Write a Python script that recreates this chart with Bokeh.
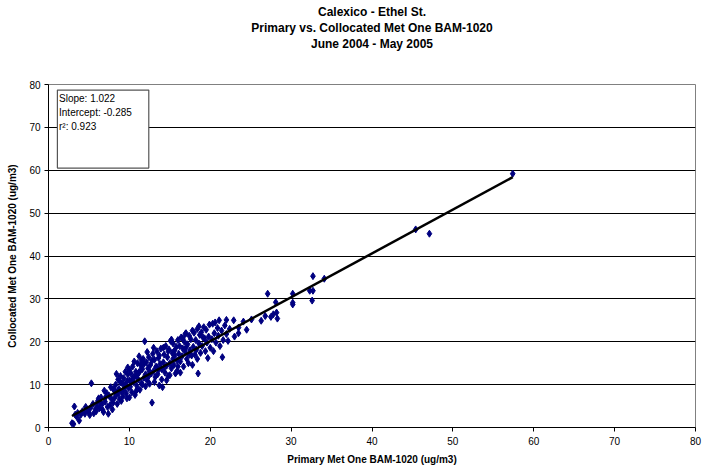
from bokeh.plotting import figure
from bokeh.models import Title, Range1d, FixedTicker, Label
from bokeh.embed import file_html
from bokeh.resources import INLINE

# ---- data ----
primary = [
    2.9, 3.1, 3.2, 3.5, 3.3, 3.8, 3.6, 4.0,
    4.2, 4.5, 4.8, 5.0, 5.2, 5.3, 5.5, 5.6, 5.8, 6.0, 4.6, 5.1, 5.9, 6.1,
    6.3, 6.5, 6.6, 6.8, 7.0, 7.2, 7.3, 7.5, 7.6, 7.8, 8.0, 6.2, 6.9, 7.4, 7.9, 6.4, 7.1, 7.7, 6.7, 8.0,
    8.2, 8.3, 8.4, 8.5, 8.6, 8.7, 8.8, 8.9, 9.0, 9.1, 9.2, 9.3, 9.4, 9.5, 9.6, 9.7, 9.8, 9.9, 10.0, 10.0,
    8.1, 8.4, 9.0, 9.5, 9.8, 8.6, 9.3, 10.0, 8.9, 9.7,
    10.1, 10.2, 10.3, 10.4, 10.5, 10.6, 10.7, 10.8, 10.9, 11.0, 11.1, 11.2, 11.3, 11.4, 11.5, 11.6,
    11.7, 11.8, 11.9, 12.0, 10.2, 10.6, 11.0, 11.3, 11.8, 12.0, 10.4, 10.9, 11.5, 11.6, 10.8, 11.2,
    12.1, 12.2, 12.3, 12.4, 12.5, 12.6, 12.7, 12.8, 12.9, 13.0, 13.1, 13.2, 13.3, 13.4, 13.5, 13.6,
    13.7, 13.8, 13.9, 14.0, 12.2, 12.5, 12.8, 13.1, 13.4, 13.7, 14.0, 12.4, 13.0, 13.6,
    14.1, 14.2, 14.3, 14.4, 14.5, 14.6, 14.7, 14.8, 14.9, 15.0, 15.1, 15.2, 15.3, 15.4, 15.5, 15.6,
    15.7, 15.8, 15.9, 16.0, 14.3, 14.8, 15.2, 15.6, 16.0, 14.6, 15.4, 15.9, 14.2, 15.0,
    16.1, 16.2, 16.3, 16.4, 16.5, 16.6, 16.7, 16.8, 16.9, 17.0, 17.1, 17.2, 17.3, 17.4, 17.5, 17.6,
    17.7, 17.8, 17.9, 18.0, 16.3, 16.6, 17.0, 17.4, 17.8, 16.9,
    18.1, 18.2, 18.3, 18.4, 18.5, 18.6, 18.7, 18.8, 18.9, 19.0, 19.2, 19.3, 19.4, 19.5, 19.6, 19.8,
    19.9, 20.0, 18.4, 19.1, 19.7, 18.6,
    20.2, 20.3, 20.5, 20.6, 20.7, 20.9, 21.0, 21.2, 21.4, 21.6, 21.8, 22.0, 21.1, 20.4, 21.5, 22.0,
    22.2, 22.4,
    22.9, 23.5, 23.5, 24.1, 25.1, 26.3, 27.1, 28.1, 28.2, 28.3, 27.8, 27.5, 26.8, 24.5, 23.0,
    30.2, 30.2, 30.2, 32.3, 32.7, 32.6, 32.7, 34.1, 45.4, 47.1, 57.4,
]
collocated = [
    1.0, 0.8, 4.9, 2.5, 3.0, 1.6, 3.4, 3.0,
    3.8, 3.2, 4.0, 3.5, 4.6, 10.3, 5.5, 3.3, 4.2, 5.0, 4.8, 2.9, 3.8, 6.2,
    4.5, 7.0, 5.4, 3.6, 6.0, 8.0, 4.8, 7.4, 5.2, 6.6, 9.0, 6.8, 8.6, 3.2, 4.2, 5.8, 7.2, 9.4, 4.1, 5.8,
    7.0, 10.0, 8.1, 5.5, 11.2, 9.0, 6.6, 12.0, 8.4, 10.4, 7.3, 11.5, 9.5, 13.0, 8.0, 10.8, 12.4, 9.2, 7.0, 11.0,
    8.8, 12.5, 6.2, 10.0, 14.0, 7.8, 8.8, 13.5, 10.5, 6.8,
    9.5, 12.6, 8.2, 14.2, 10.6, 11.8, 7.6, 13.0, 9.8, 15.0, 11.2, 12.8, 8.8, 14.5, 10.4, 13.6,
    16.0, 11.6, 20.1, 12.4, 10.5, 15.4, 9.0, 13.2, 14.8, 9.6, 11.4, 12.2, 15.6, 10.0, 8.4, 16.6,
    15.2, 11.0, 13.8, 16.4, 10.2, 14.6, 12.6, 5.8, 17.2, 13.2, 15.8, 11.8, 14.2, 17.8, 12.4, 16.2,
    9.8, 14.8, 18.4, 13.6, 17.6, 13.0, 15.6, 10.6, 14.0, 16.8, 11.2, 12.0, 18.6, 13.4,
    9.4, 15.2, 17.0, 12.8, 19.0, 14.4, 16.4, 12.0, 18.2, 15.0, 20.2, 13.8, 17.4, 19.6, 14.6, 16.8,
    12.6, 18.8, 15.6, 20.4, 14.0, 17.8, 20.5, 18.0, 14.2, 11.0, 16.0, 13.2, 18.6, 12.2,
    17.2, 19.0, 15.4, 21.0, 16.6, 18.4, 14.2, 20.0, 17.6, 22.0, 16.0, 19.4, 15.0, 21.4, 18.0, 20.6,
    16.8, 22.6, 18.8, 22.1, 12.8, 20.8, 18.6, 17.0, 14.6, 21.8,
    17.0, 20.4, 18.2, 23.0, 12.6, 19.6, 21.6, 17.4, 22.2, 19.0, 23.4, 20.8, 17.8, 22.8, 19.8, 21.2,
    24.0, 18.6, 16.0, 21.0, 16.2, 23.6,
    20.6, 24.2, 22.0, 24.5, 19.8, 23.2, 21.4, 19.0, 22.6, 20.4, 23.8, 21.8, 25.0, 17.8, 16.4, 25.1,
    20.2, 23.0,
    25.0, 23.3, 22.0, 24.7, 25.2, 24.9, 31.2, 29.2, 26.8, 25.4, 26.4, 25.8, 26.0, 22.8, 21.2,
    31.2, 29.1, 28.7, 31.9, 31.9, 29.6, 35.3, 34.7, 46.2, 45.2, 59.2,
]
slope = 1.022
intercept = -0.285
r2 = 0.923
x_ticks = [0, 10, 20, 30, 40, 50, 60, 70, 80]
y_ticks = [0, 10, 20, 30, 40, 50, 60, 70, 80]
title_lines = ["Calexico - Ethel St.", "Primary vs. Collocated Met One BAM-1020", "June 2004 - May 2005"]
stats_lines = ["Slope: %.3f" % slope, "Intercept: %.3f" % intercept, "r\u00b2: %.3f" % r2]

FONT = "Liberation Sans"

p = figure(width=717, height=468, output_backend="svg", toolbar_location=None,
           x_range=Range1d(0, 80), y_range=Range1d(0, 80),
           min_border_left=48, min_border_right=22, min_border_top=84, min_border_bottom=41,
           title=None)
p.background_fill_color = "white"
p.border_fill_color = "white"
p.outline_line_color = "#808080"
p.outline_line_width = 1

# titles (added innermost first)
p.add_layout(Title(text=" ", text_font_size="20px"), "above")
for t in reversed(title_lines):
    p.add_layout(Title(text=t, text_font=FONT, text_font_style="bold", text_font_size="12px",
                       align="center", offset=-11, text_color="black", standoff=0), "above")

# axes
for ax in (p.xaxis[0], p.yaxis[0]):
    ax.axis_line_color = "black"
    ax.major_tick_line_color = "black"
    ax.major_tick_out = 4
    ax.major_tick_in = 0
    ax.minor_tick_line_color = None
    ax.major_label_text_font = FONT
    ax.major_label_text_font_size = "10px"
    ax.major_label_text_color = "black"
    ax.axis_label_text_font = FONT
    ax.axis_label_text_font_style = "bold"
    ax.axis_label_text_font_size = "10px"
    ax.axis_label_text_color = "black"
p.xaxis.ticker = FixedTicker(ticks=x_ticks)
p.yaxis.ticker = FixedTicker(ticks=y_ticks)
p.xaxis.axis_label = "Primary Met One BAM-1020 (ug/m3)"
p.yaxis.axis_label = "Collocated Met One BAM-1020 (ug/m3)"
p.xaxis.axis_label_standoff = 6
p.yaxis.axis_label_standoff = 8
p.xaxis.major_label_standoff = 5
p.yaxis.major_label_standoff = 4

p.xgrid.grid_line_color = None
p.ygrid.grid_line_color = "black"
p.ygrid.grid_line_width = 1

# points
p.scatter(primary, collocated, marker="diamond", size=7, fill_color="#000080",
          line_color="#000080")

# regression line
x0, x1 = min(primary), max(primary)
p.line([x0, x1], [slope * x0 + intercept, slope * x1 + intercept], line_color="black", line_width=2.5)

# stats box
p.quad(left=[1.1], right=[12.4], bottom=[60.5], top=[78.7], fill_color="white",
       line_color="#555555", line_width=1.2)
for i, s in enumerate(stats_lines):
    p.add_layout(Label(x=1.3, y=78.0 - i * 3.2, text=s, text_font=FONT, text_font_size="10px",
                       text_baseline="top", text_color="black"))

open("out.html", "w").write(file_html(p, INLINE))
